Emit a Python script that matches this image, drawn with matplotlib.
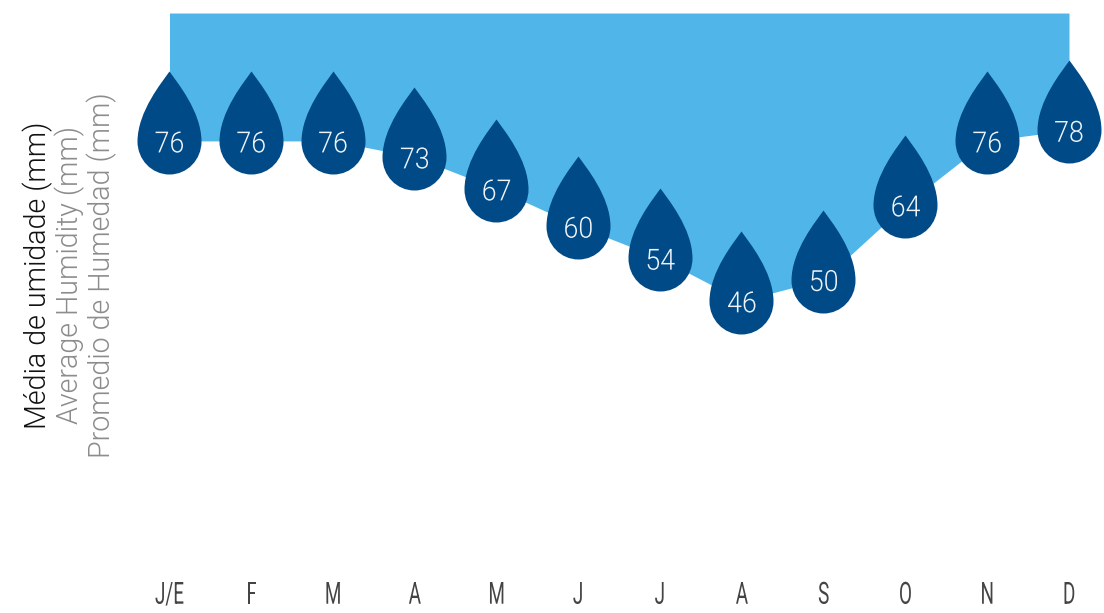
import matplotlib
matplotlib.use('Agg')
import matplotlib.pyplot as plt
import numpy as np
from matplotlib.path import Path
from matplotlib.patheffects import AbstractPathEffect
from matplotlib.transforms import Affine2D

months = ['J/E', 'F', 'M', 'A', 'M', 'J', 'J', 'A', 'S', 'O', 'N', 'D']
humidity = [76, 76, 76, 73, 67, 60, 54, 46, 50, 64, 76, 78]
titles = ['Média de umidade (mm)', 'Average Humidity (mm)', 'Promedio de Humedad (mm)']


class Squeeze(AbstractPathEffect):
    # aperta o texto na horizontal, sem fonte condensada instalada
    def __init__(self, k):
        super().__init__()
        self.k = k

    def draw_path(self, renderer, gc, tpath, affine, rgbFace=None):
        c = tpath.get_extents().x0 / 2 + tpath.get_extents().x1 / 2
        squeeze = Affine2D().translate(-c, 0).scale(self.k, 1).translate(c, 0)
        renderer.draw_path(gc, tpath, squeeze + affine, rgbFace)


W, H = 1104, 613
fig = plt.figure(figsize=(W / 100, H / 100), dpi=100)
ax = fig.add_axes([169.5 / W, 1 - 546 / H, 899.5 / W, 533 / H])

x = np.arange(len(humidity))
ax.fill_between(x, humidity, 100, color='#50B6EA', lw=0)

# gota: ponta em cima, base redonda
drop = Path(
    [(0, 70), (7, 60), (32, 30), (32, 0), (32, -18), (18, -33), (0, -33),
     (-18, -33), (-32, -18), (-32, 0), (-32, 30), (-7, 60), (0, 70), (0, 70)],
    [Path.MOVETO] + [Path.CURVE4] * 12 + [Path.CLOSEPOLY])
size = (70 * 2 * 72 / 100) ** 2
ax.scatter(x - 0.006, humidity, marker=drop, s=size, color='#004B87', lw=0, clip_on=False, zorder=3)

for i, v in zip(x, humidity):
    ax.annotate(str(v), (i, v), xytext=(0, -2.5), textcoords='offset points', ha='center', va='center',
                color='#EEF3F8', fontsize=21, family='Roboto', fontweight=300, zorder=4,
                path_effects=[Squeeze(0.92)])

ax.set_xlim(0, 11)
ax.set_ylim(0, 100)
ax.set_xticks(x)
ax.set_xticklabels(months, family='Roboto', fontweight=400, fontsize=22, color='#444444',
                   path_effects=[Squeeze(0.62)])
ax.tick_params(axis='x', length=0, pad=25)
ax.set_yticks([])
for s in ax.spines.values():
    s.set_visible(False)
ax.patch.set_alpha(0)

fig.text(37.5 / W, 1 - 275 / H, titles[0], rotation=90, ha='center', va='center', family='Roboto',
         fontsize=20.6, fontweight=300, color='#111111')
fig.text(70 / W, 1 - 275 / H, titles[1], rotation=90, ha='center', va='center', family='Roboto',
         fontsize=20.6, fontweight=300, color='#8c8c8c')
fig.text(102 / W, 1 - 275 / H, titles[2], rotation=90, ha='center', va='center', family='Roboto',
         fontsize=20.6, fontweight=300, color='#8c8c8c')

fig.savefig('out.png', dpi=100)
